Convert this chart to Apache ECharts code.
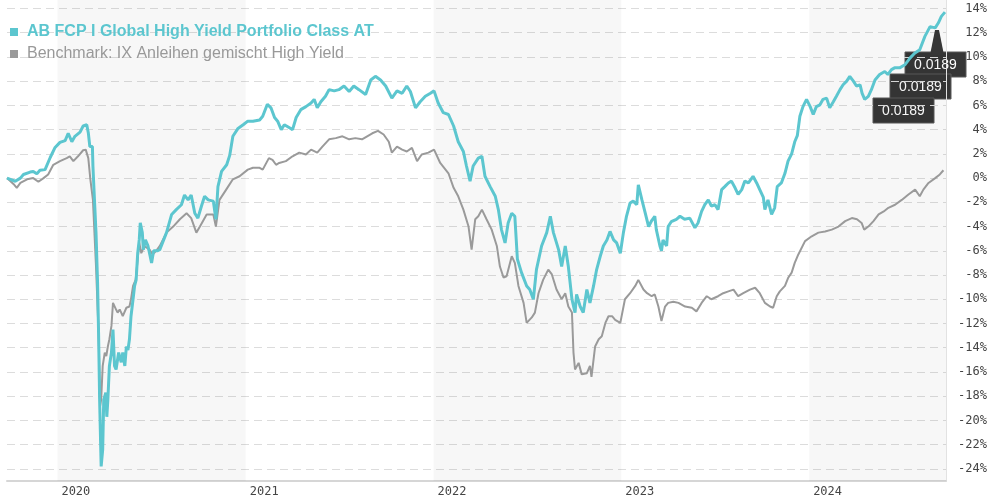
<!DOCTYPE html>
<html><head><meta charset="utf-8">
<script src="https://cdn.jsdelivr.net/npm/echarts@6/dist/echarts.min.js"></script>
<style>html,body{margin:0;padding:0;background:#fff}#c{width:990px;height:500px}</style>
</head><body><div id="c"></div>
<script>
const fundName = 'AB FCP I Global High Yield Portfolio Class AT';
const benchName = 'Benchmark: IX Anleihen gemischt High Yield';

const fund = [
['2019-09-25',0.0],['2019-10-11',-0.26],['2019-10-21',0.0],['2019-10-27',0.3],['2019-11-09',0.5],['2019-11-15',0.55],
['2019-11-22',0.35],['2019-11-28',0.65],['2019-12-08',0.7],['2019-12-18',1.7],['2019-12-27',2.5],['2020-01-06',2.95],
['2020-01-16',3.1],['2020-01-22',3.7],['2020-01-29',3.0],['2020-02-04',3.45],['2020-02-14',3.8],['2020-02-20',4.3],
['2020-02-27',4.4],['2020-03-01',3.75],['2020-03-04',2.6],['2020-03-09',2.6],['2020-03-10',1.0],['2020-03-13',-1.8],
['2020-03-16',-4.5],['2020-03-19',-8.6],['2020-03-21',-12.8],['2020-03-23',-18.3],['2020-03-26',-23.8],['2020-03-29',-22.4],
['2020-03-31',-18.3],['2020-04-04',-17.7],['2020-04-06',-19.7],['2020-04-08',-18.3],['2020-04-11',-15.5],['2020-04-15',-14.4],
['2020-04-18',-12.5],['2020-04-21',-15.5],['2020-04-24',-15.8],['2020-04-29',-14.4],['2020-05-04',-15.2],['2020-05-07',-14.4],
['2020-05-11',-15.5],['2020-05-14',-13.9],['2020-05-17',-14.2],['2020-05-20',-13.3],['2020-05-23',-11.4],['2020-05-27',-10.0],
['2020-05-30',-8.9],['2020-06-02',-8.4],['2020-06-05',-6.2],['2020-06-08',-5.1],['2020-06-10',-3.7],['2020-06-14',-4.5],
['2020-06-16',-5.9],['2020-06-20',-5.1],['2020-06-25',-5.6],['2020-07-02',-7.0],['2020-07-06',-6.0],['2020-07-13',-6.0],
['2020-07-18',-5.9],['2020-07-31',-4.5],['2020-08-10',-3.0],['2020-08-19',-2.6],['2020-08-29',-2.2],['2020-09-04',-1.4],
['2020-09-11',-1.8],['2020-09-17',-1.4],['2020-09-24',-2.9],['2020-09-30',-3.3],['2020-10-07',-2.3],['2020-10-13',-1.5],
['2020-10-20',-1.8],['2020-10-30',-1.9],['2020-11-04',-3.4],['2020-11-08',-0.7],['2020-11-15',0.55],['2020-11-25',1.1],
['2020-12-01',1.9],['2020-12-07',3.45],['2020-12-17',4.1],['2020-12-27',4.4],
['2021-01-05',4.7],['2021-01-15',4.7],['2021-01-28',4.8],['2021-02-03',5.1],['2021-02-12',6.1],['2021-02-19',5.8],
['2021-02-26',5.0],['2021-03-04',4.7],['2021-03-11',4.0],['2021-03-17',4.4],['2021-03-27',4.15],['2021-04-02',4.0],
['2021-04-09',5.0],['2021-04-18',5.65],['2021-04-28',5.9],['2021-05-08',6.2],['2021-05-14',6.5],['2021-05-20',5.8],
['2021-05-27',6.3],['2021-06-05',6.75],['2021-06-12',7.3],['2021-06-22',7.2],['2021-07-01',7.3],['2021-07-11',7.6],
['2021-07-21',7.15],['2021-07-30',7.6],['2021-08-09',7.3],['2021-08-22',6.9],['2021-09-01',8.1],['2021-09-10',8.4],
['2021-09-20',8.1],['2021-09-30',7.6],['2021-10-12',6.6],['2021-10-22',7.2],['2021-11-01',7.0],['2021-11-10',7.6],
['2021-11-17',7.15],['2021-11-27',5.8],['2021-12-06',6.3],['2021-12-16',6.75],['2021-12-26',7.0],
['2022-01-02',7.2],['2022-01-10',6.2],['2022-01-20',5.4],['2022-01-30',5.25],['2022-02-09',4.3],['2022-02-18',3.0],
['2022-02-28',2.2],['2022-03-06',1.0],['2022-03-13',-0.25],['2022-03-19',1.0],['2022-03-29',1.65],['2022-04-05',1.8],
['2022-04-11',0.15],['2022-04-21',-0.7],['2022-05-01',-1.5],['2022-05-07',-2.6],['2022-05-13',-4.25],['2022-05-20',-5.35],
['2022-05-26',-3.7],['2022-06-02',-2.9],['2022-06-08',-3.15],['2022-06-13',-6.7],['2022-06-21',-7.8],['2022-07-01',-8.9],
['2022-07-07',-9.2],['2022-07-14',-10.0],['2022-07-20',-7.55],['2022-07-30',-5.6],['2022-08-09',-4.5],['2022-08-16',-3.15],
['2022-08-22',-4.5],['2022-09-01',-5.9],['2022-09-07',-7.3],['2022-09-14',-5.6],['2022-09-20',-7.3],['2022-09-27',-10.0],
['2022-10-03',-11.1],['2022-10-06',-9.6],['2022-10-13',-10.6],['2022-10-19',-11.1],['2022-10-26',-9.2],['2022-11-01',-10.3],
['2022-11-08',-8.9],['2022-11-14',-7.55],['2022-11-21',-6.45],['2022-11-27',-5.6],['2022-12-04',-5.1],['2022-12-10',-4.4],
['2022-12-17',-5.1],['2022-12-23',-5.35],['2022-12-30',-6.2],
['2023-01-05',-4.5],['2023-01-11',-3.15],['2023-01-18',-2.05],['2023-01-24',-1.9],['2023-01-31',-2.2],['2023-02-03',-0.55],
['2023-02-10',-1.8],['2023-02-16',-2.8],['2023-02-23',-4.0],['2023-03-01',-3.5],['2023-03-07',-3.15],['2023-03-10',-4.25],
['2023-03-17',-5.6],['2023-03-20',-6.0],['2023-03-23',-5.1],['2023-03-30',-5.6],['2023-04-02',-4.0],['2023-04-08',-3.6],
['2023-04-18',-3.4],['2023-04-25',-3.15],['2023-05-04',-3.4],['2023-05-14',-3.3],['2023-05-24',-4.1],['2023-05-30',-3.7],
['2023-06-06',-2.75],['2023-06-12',-2.2],['2023-06-19',-1.8],['2023-06-25',-2.3],['2023-07-02',-2.2],['2023-07-08',-2.6],
['2023-07-15',-0.95],['2023-07-21',-0.7],['2023-07-28',-0.4],['2023-08-03',-0.25],['2023-08-10',-0.8],['2023-08-16',-1.35],
['2023-08-23',-0.95],['2023-08-29',-0.25],['2023-09-05',-0.4],['2023-09-14',0.15],['2023-09-21',-0.4],['2023-09-27',-0.95],
['2023-10-04',-1.6],['2023-10-07',-2.6],['2023-10-13',-1.8],['2023-10-20',-3.0],['2023-10-26',-2.45],['2023-10-31',-0.7],
['2023-11-08',-0.4],['2023-11-15',0.4],['2023-11-21',1.4],['2023-11-28',2.0],['2023-12-04',3.0],['2023-12-09',3.5],
['2023-12-14',5.1],['2023-12-20',5.9],['2023-12-27',6.5],
['2024-01-03',5.9],['2024-01-09',5.25],['2024-01-15',5.9],['2024-01-22',6.05],['2024-01-28',6.5],['2024-02-04',6.6],
['2024-02-10',5.8],['2024-02-17',6.3],['2024-02-23',6.75],['2024-03-01',7.3],['2024-03-07',7.7],['2024-03-14',8.0],
['2024-03-20',8.4],['2024-03-27',8.0],['2024-04-02',7.6],['2024-04-09',7.7],['2024-04-13',7.0],['2024-04-18',6.5],
['2024-04-25',6.75],['2024-05-01',7.3],['2024-05-08',8.1],['2024-05-17',8.55],['2024-05-27',8.8],['2024-06-02',8.55],
['2024-06-09',8.95],['2024-06-15',9.1],['2024-06-25',9.1],['2024-07-05',9.35],['2024-07-15',9.9],['2024-07-24',10.3],
['2024-08-03',10.6],['2024-08-13',11.7],['2024-08-23',12.5],['2024-09-02',12.4],['2024-09-08',12.8],['2024-09-14',13.35],
['2024-09-21',13.7]
];

const bench = [
['2019-09-25',0.0],['2019-10-08',-0.5],['2019-10-14',-0.8],['2019-10-21',-0.4],['2019-11-03',-0.1],['2019-11-15',0.0],
['2019-11-25',-0.3],['2019-12-05',0.0],['2019-12-14',0.3],['2019-12-24',1.1],['2020-01-06',1.4],['2020-01-19',1.65],
['2020-01-25',1.8],['2020-02-01',1.4],['2020-02-10',1.8],['2020-02-20',2.3],['2020-02-25',2.35],['2020-03-01',1.65],
['2020-03-05',-0.1],['2020-03-10',-1.8],['2020-03-16',-7.3],['2020-03-21',-12.8],['2020-03-24',-18.8],['2020-03-26',-18.3],
['2020-03-29',-15.5],['2020-04-02',-14.4],['2020-04-05',-14.7],['2020-04-08',-13.9],['2020-04-11',-13.3],['2020-04-15',-12.2],
['2020-04-18',-10.3],['2020-04-21',-10.2],['2020-04-24',-10.85],['2020-04-27',-11.1],['2020-05-01',-10.85],['2020-05-04',-11.1],
['2020-05-07',-11.4],['2020-05-14',-10.7],['2020-05-20',-10.6],['2020-05-23',-10.0],['2020-05-27',-8.9],['2020-06-01',-8.4],
['2020-06-05',-6.7],['2020-06-08',-5.3],['2020-06-12',-6.2],['2020-06-18',-5.6],['2020-06-28',-5.9],['2020-07-04',-6.3],
['2020-07-11',-6.0],['2020-07-18',-5.6],['2020-07-31',-4.5],['2020-08-13',-4.0],['2020-08-26',-3.4],['2020-09-08',-2.9],
['2020-09-17',-3.3],['2020-09-27',-4.5],['2020-10-04',-4.0],['2020-10-17',-3.0],['2020-10-30',-3.0],['2020-11-04',-4.0],
['2020-11-11',-1.8],['2020-11-24',-0.95],['2020-12-07',-0.1],['2020-12-20',0.15],
['2021-01-05',0.7],['2021-01-15',0.85],['2021-01-28',0.85],['2021-02-03',0.7],['2021-02-15',1.65],['2021-02-22',1.5],
['2021-03-01',1.1],['2021-03-07',1.25],['2021-03-20',1.4],['2021-04-02',1.8],['2021-04-15',2.1],['2021-04-28',1.95],
['2021-05-08',2.35],['2021-05-20',2.1],['2021-05-30',2.6],['2021-06-12',3.2],['2021-06-25',3.3],['2021-07-08',3.45],
['2021-07-21',3.2],['2021-08-02',3.3],['2021-08-15',3.2],['2021-08-25',3.45],['2021-09-04',3.7],['2021-09-15',3.9],
['2021-09-26',3.6],['2021-10-06',3.0],['2021-10-12',2.1],['2021-10-22',2.6],['2021-11-01',2.35],['2021-11-10',2.2],
['2021-11-20',2.5],['2021-11-30',1.4],['2021-12-09',1.95],['2021-12-22',2.1],
['2022-01-02',2.35],['2022-01-14',1.25],['2022-01-30',0.4],['2022-02-09',-0.8],['2022-02-18',-1.5],['2022-02-28',-2.6],
['2022-03-10',-4.0],['2022-03-16',-5.9],['2022-03-23',-3.4],['2022-03-29',-3.15],['2022-04-05',-2.6],['2022-04-14',-3.4],
['2022-04-24',-4.25],['2022-05-04',-5.6],['2022-05-10',-7.3],['2022-05-17',-8.2],['2022-05-23',-8.1],['2022-06-02',-6.45],
['2022-06-08',-7.0],['2022-06-15',-8.9],['2022-06-25',-10.3],['2022-07-01',-11.95],['2022-07-11',-11.5],['2022-07-17',-11.1],
['2022-07-24',-9.5],['2022-08-02',-8.4],['2022-08-12',-7.55],['2022-08-19',-7.95],['2022-08-28',-9.2],['2022-09-07',-10.0],
['2022-09-14',-9.5],['2022-09-20',-10.6],['2022-09-27',-11.1],['2022-09-30',-14.4],['2022-10-03',-15.8],['2022-10-10',-15.25],
['2022-10-16',-16.2],['2022-10-26',-16.1],['2022-11-01',-15.5],['2022-11-04',-16.4],['2022-11-11',-13.9],['2022-11-18',-13.3],
['2022-11-24',-13.05],['2022-12-01',-11.95],['2022-12-07',-11.4],['2022-12-14',-11.4],['2022-12-20',-11.7],['2022-12-30',-11.95],
['2023-01-08',-10.0],['2023-01-18',-9.5],['2023-01-28',-8.9],['2023-02-03',-8.4],['2023-02-13',-9.2],['2023-02-20',-9.5],
['2023-03-01',-9.75],['2023-03-07',-9.6],['2023-03-14',-10.6],['2023-03-20',-11.8],['2023-03-27',-10.6],['2023-04-02',-10.3],
['2023-04-12',-10.2],['2023-04-22',-10.3],['2023-05-05',-10.6],['2023-05-18',-10.7],['2023-05-27',-11.0],['2023-06-06',-10.3],
['2023-06-16',-9.75],['2023-06-25',-10.0],['2023-07-08',-9.75],['2023-07-18',-9.5],['2023-07-28',-9.35],['2023-08-07',-9.2],
['2023-08-16',-9.75],['2023-08-26',-9.5],['2023-09-08',-9.2],['2023-09-18',-9.05],['2023-09-27',-9.5],['2023-10-07',-10.3],
['2023-10-17',-10.6],['2023-10-23',-10.7],['2023-10-30',-9.75],['2023-11-05',-9.35],['2023-11-15',-8.9],['2023-11-21',-8.25],
['2023-11-28',-7.8],['2023-12-04',-7.0],['2023-12-11',-6.3],['2023-12-24',-5.2],
['2024-01-06',-4.8],['2024-01-19',-4.5],['2024-02-01',-4.4],['2024-02-14',-4.25],['2024-02-27',-4.0],['2024-03-11',-3.55],
['2024-03-24',-3.3],['2024-04-03',-3.4],['2024-04-12',-3.7],['2024-04-17',-4.25],['2024-04-25',-4.0],['2024-05-05',-3.55],
['2024-05-15',-3.0],['2024-05-25',-2.75],['2024-06-03',-2.45],['2024-06-16',-2.2],['2024-06-29',-1.8],['2024-07-12',-1.35],
['2024-07-25',-0.95],['2024-08-03',-1.5],['2024-08-10',-0.95],['2024-08-20',-0.4],['2024-09-02',0.0],['2024-09-11',0.3],
['2024-09-18',0.65]
];

const yTicks = [14,12,10,8,6,4,2,0,-2,-4,-6,-8,-10,-12,-14,-16,-18,-20,-22,-24];
const yRange = [-25, 14.7];
const xRange = ['2019-09-25', '2024-09-23'];
const yearTicks = ['2020-01-01','2021-01-01','2022-01-01','2023-01-01','2024-01-01'];
const shadedYears = [['2020-01-01','2021-01-01'],['2022-01-01','2023-01-01'],['2024-01-01','2024-09-23']];
const tooltipTexts = ['0.0189','0.0189','0.0189'];

const P = s => Date.UTC(+s.slice(0,4), +s.slice(5,7) - 1, +s.slice(8,10));
const toXY = arr => arr.map(d => [P(d[0]), d[1]]);
const chart = echarts.init(document.getElementById('c'), null, {renderer:'canvas'});

const teal = '#5cc6cf';
const grey = '#9a9a9a';
const boxes = [[905,52],[890,74],[873,98]];

chart.setOption({
  animation: false,
  grid: {left: 7, right: 42, top: 0, bottom: 19, containLabel: false},
  legend: {
    orient: 'vertical', left: 10, top: 24, padding: 0, itemWidth: 8, itemHeight: 8, itemGap: 6, icon: 'rect',
    textStyle: {fontSize: 16, fontFamily: 'Liberation Sans, Arial, sans-serif', padding: [0,0,0,4]},
    data: [
      {name: fundName, textStyle: {color: teal, fontWeight: 'bold'}},
      {name: benchName, textStyle: {color: '#999'}}
    ]
  },
  xAxis: {
    type: 'value', min: P(xRange[0]), max: P(xRange[1]),
    axisLine: {show: true, onZero: false, lineStyle: {color: '#d6d6d6', width: 2}},
    axisTick: {show: false},
    splitLine: {show: false},
    axisLabel: {
      customValues: yearTicks.map(P),
      formatter: v => String(new Date(v).getUTCFullYear()),
      align: 'left', padding: [0,0,0,4], margin: 5,
      color: '#444', fontSize: 12, fontFamily: 'DejaVu Sans Mono, monospace',
      hideOverlap: false
    }
  },
  yAxis: {
    type: 'value', position: 'right', min: yRange[0], max: yRange[1],
    axisLine: {show: true, lineStyle: {color: '#e2e2e2', width: 1}},
    axisTick: {show: false, customValues: yTicks},
    splitLine: {show: true, lineStyle: {color: '#dcdcdc', type: [8,5], width: 1}},
    axisLabel: {
      customValues: yTicks, formatter: v => v + '%', align: 'right', margin: 41,
      color: '#444', fontSize: 12, fontFamily: 'DejaVu Sans Mono, monospace'
    }
  },
  series: [
    {
      name: benchName, type: 'line', data: toXY(bench), showSymbol: false, color: grey,
      lineStyle: {width: 2, color: grey}, z: 2,
      markArea: {
        silent: true, itemStyle: {color: 'rgba(0,0,0,0.03)'},
        data: shadedYears.map(r => [{xAxis: P(r[0])}, {xAxis: P(r[1])}])
      }
    },
    {
      name: fundName, type: 'line', data: toXY(fund), showSymbol: false, color: teal,
      lineStyle: {width: 3, color: teal}, z: 3
    }
  ],
  graphic: [
    {type: 'polygon', z: 100, shape: {points: [[930,55],[935,30],[939,30],[944,55]]}, style: {fill: '#363636'}}
  ].concat(boxes.map((b, i) => ({
    type: 'group', z: 101 + i, children: [
      {type: 'rect', shape: {x: b[0], y: b[1], width: 61, height: 25}, style: {fill: '#363636', stroke: '#5a5a5a', lineWidth: 1}},
      {type: 'text', style: {x: b[0] + 30.5, y: b[1] + 13, text: tooltipTexts[i], fill: '#fff', font: '14px Liberation Sans, Arial, sans-serif', align: 'center', verticalAlign: 'middle'}}
    ]
  })))
});
</script>
</body></html>
